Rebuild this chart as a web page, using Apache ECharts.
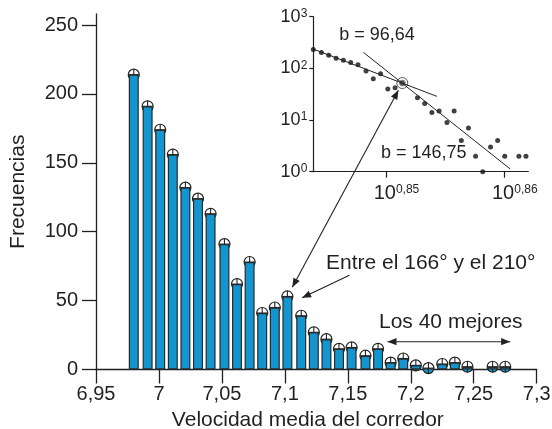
<!DOCTYPE html>
<html><head><meta charset="utf-8">
<script src="https://cdn.jsdelivr.net/npm/echarts@6/dist/echarts.min.js"></script>
<style>html,body{margin:0;padding:0;background:#fff}#c{width:552px;height:429px}</style>
</head><body><div id="c"></div>
<script>
// Main histogram
const velocities = [6.980,6.991,7.001,7.011,7.021,7.031,7.041,7.052,7.062,7.072,7.082,7.092,7.102,7.113,7.123,7.133,7.143,7.153,7.164,7.174,7.184,7.194,7.204,7.214,7.225,7.235,7.245,7.255,7.265,7.275];
const frequencies = [214,191,174,156,132,124,113,91,62,78,41,45,53,39,27,22,15,16,10,15,5,8,3,1,4,5,2,0,2,2];
const xTicks = [6.95,7,7.05,7.1,7.15,7.2,7.25,7.3];
const yTicks = [0,50,100,150,200,250];
const xTitle = 'Velocidad media del corredor';
const yTitle = 'Frecuencias';
// Inset (log-log)
const insetVel = [6.980,6.991,7.001,7.011,7.021,7.031,7.041,7.052,7.062,7.072,7.082,7.092,7.102,7.123,7.133,7.143,7.153,7.164,7.174,7.184,7.194,7.204,7.214,7.225,7.235,7.245,7.265,7.275];
const insetFreq = [232,203,180,157,144,130,117,89,63,79,40,42,52,27,21,14,15,9,15,4,7,2,1,3,4,2,2,2];
const insetXExp = [0.85,0.86];
const insetYExp = [0,1,2,3];
const fitA = [[0.8438,2.378],[0.8543,1.458]];
const fitB = [[0.8481,2.308],[0.8605,0.053]];
const fitLabels = ['b = 96,64','b = 146,75'];
const highlightIdx = 12;
const noteRange = 'Entre el 166° y el 210°';
const noteBest = 'Los 40 mejores';

const FONT = '"Liberation Sans", Arial, Helvetica, sans-serif';
const INK = '#231f20';
const BLUE = '#1396cf';
const fmtComma = v => String(+(+v).toFixed(2)).replace('.', ',');

const chart = echarts.init(document.getElementById('c'), null, {renderer: 'canvas'});
const lg = Math.log10;

const markerGradient = {type:'linear', x:0, y:0, x2:0, y2:1, global:false,
  colorStops:[{offset:0,color:'#fff'},{offset:0.5,color:'#fff'},{offset:0.5,color:BLUE},{offset:1,color:BLUE}]};

const barData = velocities.map((v,i)=>[v, frequencies[i]]).filter(d=>d[1]>0);

const option = {
  animation: false,
  textStyle: {fontFamily: FONT, color: INK},
  grid: [
    {left: 96, top: 14, right: 15.3, bottom: 59.5, containLabel:false, outerBoundsMode:'none'},
    {left: 313.3, top: 16.7, width: 215, height: 155, containLabel:false, outerBoundsMode:'none'}
  ],
  xAxis: [
    {type:'value', gridIndex:0, min:6.95, max:7.3, interval:0.05,
     axisLine:{lineStyle:{color:INK, width:1.3}},
     axisTick:{length:14, lineStyle:{color:INK, width:1.3}},
     axisLabel:{fontSize:20, color:INK, margin:15, fontFamily:FONT, formatter: v=>fmtComma(v)},
     splitLine:{show:false},
     name:xTitle, nameLocation:'middle', nameGap:40,
     nameTextStyle:{fontSize:21, color:INK, fontFamily:FONT, padding:[0,17,0,0]}},
    {type:'value', gridIndex:1, min: lg(velocities[0]), max: 0.86203,
     axisLine:{lineStyle:{color:INK, width:1.2}},
     axisTick:{length:6, customValues: insetXExp, lineStyle:{color:INK, width:1.2}},
     axisLabel:{customValues: insetXExp, margin:12, fontFamily:FONT, color:INK, fontSize:20,
       formatter: v=>'{sp| }{b|10}{s|'+fmtComma(v)+'}',
       rich:{sp:{width:21, fontSize:12}, b:{fontSize:20, lineHeight:20, fontFamily:FONT, color:INK},
             s:{fontSize:12, lineHeight:12, verticalAlign:'top', fontFamily:FONT, color:INK}}},
     splitLine:{show:false}}
  ],
  yAxis: [
    {type:'value', gridIndex:0, min:0, max:258,
     axisLine:{show:true, lineStyle:{color:INK, width:1.3}},
     axisTick:{show:true, length:14, customValues: yTicks, lineStyle:{color:INK, width:1.3}},
     axisLabel:{customValues: yTicks, fontSize:20, color:INK, margin:18, fontFamily:FONT},
     splitLine:{show:false},
     name:yTitle, nameLocation:'middle', nameGap:67, nameRotate:90,
     nameTextStyle:{fontSize:21, color:INK, fontFamily:FONT}},
    {type:'value', gridIndex:1, min:0, max:3, interval:1,
     axisLine:{show:true, lineStyle:{color:INK, width:1.2}},
     axisTick:{show:true, length:4, lineStyle:{color:INK, width:1.2}},
     axisLabel:{margin:6, fontFamily:FONT, color:INK, fontSize:18, lineHeight:18,
       formatter: v=>'10{s|'+v+'}',
       rich:{s:{fontSize:12, lineHeight:12, verticalAlign:'top', fontFamily:FONT, color:INK}}},
     splitLine:{show:false}}
  ],
  series: [
    {type:'bar', xAxisIndex:0, yAxisIndex:0, data: barData, barWidth:10,
     itemStyle:{color:BLUE, borderColor:'#2b2b2b', borderWidth:1.2}},
    {type:'custom', xAxisIndex:0, yAxisIndex:0, data: barData, clip:false,
     encode:{x:0, y:1},
     renderItem: (params, api) => {
       const p = api.coord([api.value(0), api.value(1)]);
       const r = 5.5;
       return {type:'group', children:[
         {type:'circle', shape:{cx:p[0], cy:p[1], r:r}, style:{fill:markerGradient, stroke:'#222', lineWidth:1.2}},
         {type:'line', shape:{x1:p[0]-r, y1:p[1], x2:p[0]+r, y2:p[1]}, style:{stroke:'#222', lineWidth:1.1}},
         {type:'line', shape:{x1:p[0], y1:p[1]-r, x2:p[0], y2:p[1]+r}, style:{stroke:'#222', lineWidth:1.1}}
       ]};
     }},
    {type:'line', xAxisIndex:1, yAxisIndex:1, data: fitA, showSymbol:false, symbol:'none',
     lineStyle:{color:'#222', width:1}},
    {type:'line', xAxisIndex:1, yAxisIndex:1, data: fitB, showSymbol:false, symbol:'none',
     lineStyle:{color:'#222', width:1}},
    {type:'scatter', xAxisIndex:1, yAxisIndex:1, clip:false,
     data: insetVel.map((v,i)=>[lg(v), lg(insetFreq[i])]),
     symbolSize:5, itemStyle:{color:'#111'}},
    {type:'scatter', xAxisIndex:1, yAxisIndex:1, clip:false,
     data: [[lg(insetVel[highlightIdx]), lg(insetFreq[highlightIdx])]],
     symbol:'circle', symbolSize:11, itemStyle:{color:'rgba(255,255,255,0)', borderColor:'#333', borderWidth:1}},
    {type:'scatter', xAxisIndex:1, yAxisIndex:1, clip:false,
     data: [[lg(insetVel[highlightIdx]), lg(insetFreq[highlightIdx])]],
     symbol:'circle', symbolSize:6, itemStyle:{color:'#555', borderColor:'#888', borderWidth:1}}
  ]
};
chart.setOption(option);

// Annotations
function arrowHead(tx, ty, fx, fy) {
  const dx = tx - fx, dy = ty - fy, L = Math.hypot(dx, dy);
  const ux = dx / L, uy = dy / L, len = 9, hw = 3.6;
  const bx = tx - ux*len, by = ty - uy*len;
  return {type:'polygon', silent:true, shape:{points:[[tx,ty],[bx - uy*hw, by + ux*hw],[bx + uy*hw, by - ux*hw]]},
          style:{fill:'#222'}};
}
function arrow(x1, y1, x2, y2, both) {
  const els = [{type:'line', silent:true, shape:{x1, y1, x2, y2}, style:{stroke:'#222', lineWidth:1.1}}];
  els.push(arrowHead(x2, y2, x1, y1));
  if (both) els.push(arrowHead(x1, y1, x2, y2));
  return els;
}
const pBar = chart.convertToPixel({xAxisIndex:0, yAxisIndex:0}, [velocities[12], frequencies[12]]);
const pIn = chart.convertToPixel({xAxisIndex:1, yAxisIndex:1}, [lg(insetVel[highlightIdx]), lg(insetFreq[highlightIdx])]);
const dx = pBar[0]-pIn[0], dy = pBar[1]-pIn[1], L = Math.hypot(dx, dy), ux = dx/L, uy = dy/L;
const topTip = [pIn[0] + ux*8.3, pIn[1] + uy*8.3];
const botTip = [pBar[0] - ux*10.4, pBar[1] - uy*10.4];

const best0 = chart.convertToPixel({xAxisIndex:0, yAxisIndex:0}, [7.1815, 0]);
const best1 = chart.convertToPixel({xAxisIndex:0, yAxisIndex:0}, [7.2789, 0]);

const graphics = [];
graphics.push(...arrow(topTip[0], topTip[1], botTip[0], botTip[1], true));
graphics.push(...arrow(pBar[0]+62, pBar[1]-21.3, pBar[0]+14.7, pBar[1]+1.3, false));
graphics.push(...arrow(best0[0], 341.7, best1[0], 341.7, true));
const txt = (s, x, y, size, align) => ({type:'text', silent:true, x, y,
  style:{text:s, fontSize:size, fontFamily:FONT, fill:INK, align:align||'left', verticalAlign:'middle'}});
graphics.push(txt(noteRange, 326, 263.5, 21));
graphics.push(txt(noteBest, 379, 322.5, 21));
graphics.push(txt(fitLabels[0], 377, 35, 18, 'center'));
graphics.push(txt(fitLabels[1], 423.7, 153.5, 18, 'center'));
chart.setOption({graphic: graphics});
</script>
</body></html>
